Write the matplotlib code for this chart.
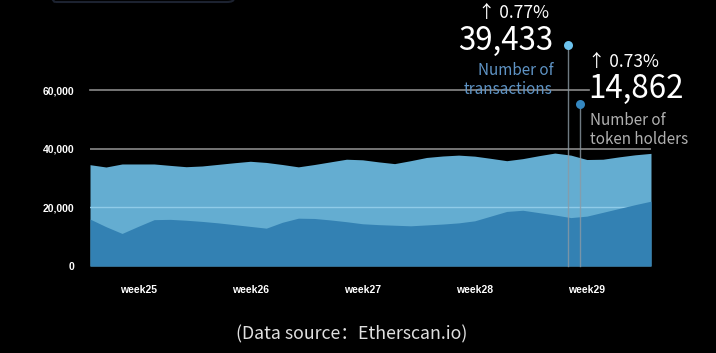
import numpy as np
import matplotlib.pyplot as plt
from matplotlib.patches import FancyBboxPatch

# daily values (5 weeks)
days = np.arange(36)
transactions = [34540, 33750, 34780, 34780, 34780, 34300, 33850, 34100, 34650, 35200,
                35700, 35300, 34600, 33800, 34600, 35500, 36400, 36200, 35500, 34900,
                35900, 37000, 37500, 37800, 37450, 36700, 35900, 36600, 37600, 38500,
                37800, 36300, 36400, 37200, 37900, 38400]
holders = [16000, 13400, 11100, 13500, 15800, 15900, 15600, 15200, 14700, 14100,
           13500, 12900, 14900, 16300, 16200, 15700, 15100, 14400, 14100, 13900,
           13700, 14000, 14300, 14700, 15400, 17000, 18600, 19000, 18200, 17400,
           16500, 17000, 18300, 19600, 20900, 22100]
week_pos = [3, 10, 17, 24, 31]
week_labels = ['week25', 'week26', 'week27', 'week28', 'week29']
y_ticks = [0, 20000, 40000, 60000]

cjk = ['Noto Sans CJK SC', 'DejaVu Sans']

W, H = 716, 353
fig = plt.figure(figsize=(W / 100, H / 100), dpi=100, facecolor='black')
ax = fig.add_axes([90 / W, (H - 266) / H, 561 / W, 176 / H])
ax.set_facecolor('black')

ax.fill_between(days, 0, transactions, color='#64add1', lw=0, zorder=1)
ax.axhline(20000, color='#8fcbe8', lw=1, zorder=1.5)
ax.fill_between(days, 0, holders, color='#3381b3', lw=0, zorder=2)
ax.axhline(40000, color='#8a8a8a', lw=1.2, zorder=0.5)
ax.axhline(60000, xmax=0.89, color='#8a8a8a', lw=1.2, zorder=0.5, clip_on=False)

ax.set_xlim(0, 35)
ax.set_ylim(0, 60000)
ax.set_xticks(week_pos)
ax.set_xticklabels(week_labels)
ax.set_yticks(y_ticks)
ax.set_yticklabels([f'{v:,}' for v in y_ticks])
ax.tick_params(length=0, colors='white')
ax.tick_params(axis='y', pad=11.5)
ax.tick_params(axis='x', pad=14)
for lab in ax.get_xticklabels() + ax.get_yticklabels():
    lab.set_fontfamily('Liberation Sans')
    lab.set_fontweight('bold')
    lab.set_fontsize(7.5)
for s in ax.spines.values():
    s.set_visible(False)

# callouts
ax.plot([0.852, 0.852], [0, 1.255], transform=ax.transAxes, color='#8c9aa4',
        lw=1, alpha=0.8, clip_on=False, zorder=3)
ax.plot([0.873, 0.873], [0, 0.92], transform=ax.transAxes, color='#8c9aa4',
        lw=1, alpha=0.8, clip_on=False, zorder=3)
ax.scatter([0.852], [1.255], s=42, color='#6cc3ee', transform=ax.transAxes,
           clip_on=False, zorder=4, lw=0)
ax.scatter([0.873], [0.92], s=42, color='#3487c0', transform=ax.transAxes,
           clip_on=False, zorder=4, lw=0)


def ft(x, y, s, **kw):
    fig.text(x / W, 1 - y / H, s, family=cjk, **kw)


ft(549, 13, '↑ 0.77%', color='white', fontsize=12.5, ha='right', va='center')
ft(553, 41, '39,433', color='white', fontsize=22.5, ha='right', va='center')
ft(553, 80, 'Number of\ntransactions', color='#5e93c4', fontsize=11,
   ha='right', va='center', linespacing=1.1)
ft(588, 62, '↑ 0.73%', color='white', fontsize=12.5, ha='left', va='center')
ft(588, 89, '14,862', color='white', fontsize=22.5, ha='left', va='center')
ft(590, 130, 'Number of\ntoken holders', color='#b0b0b0', fontsize=11,
   ha='left', va='center', linespacing=1.1)
ft(352, 334, '(Data source：Etherscan.io)', color='#e0e0e0', fontsize=12.8,
   ha='center', va='center')

# faint box edge at top-left
fig.patches.append(FancyBboxPatch((48 / W, 1 - 2 / H), 186 / W, 0.2,
                                  boxstyle='round,pad=0,rounding_size=0.01',
                                  transform=fig.transFigure, fc='none',
                                  ec='#1c2230', lw=1.5))

fig.savefig('out.png', dpi=100, facecolor='black')
